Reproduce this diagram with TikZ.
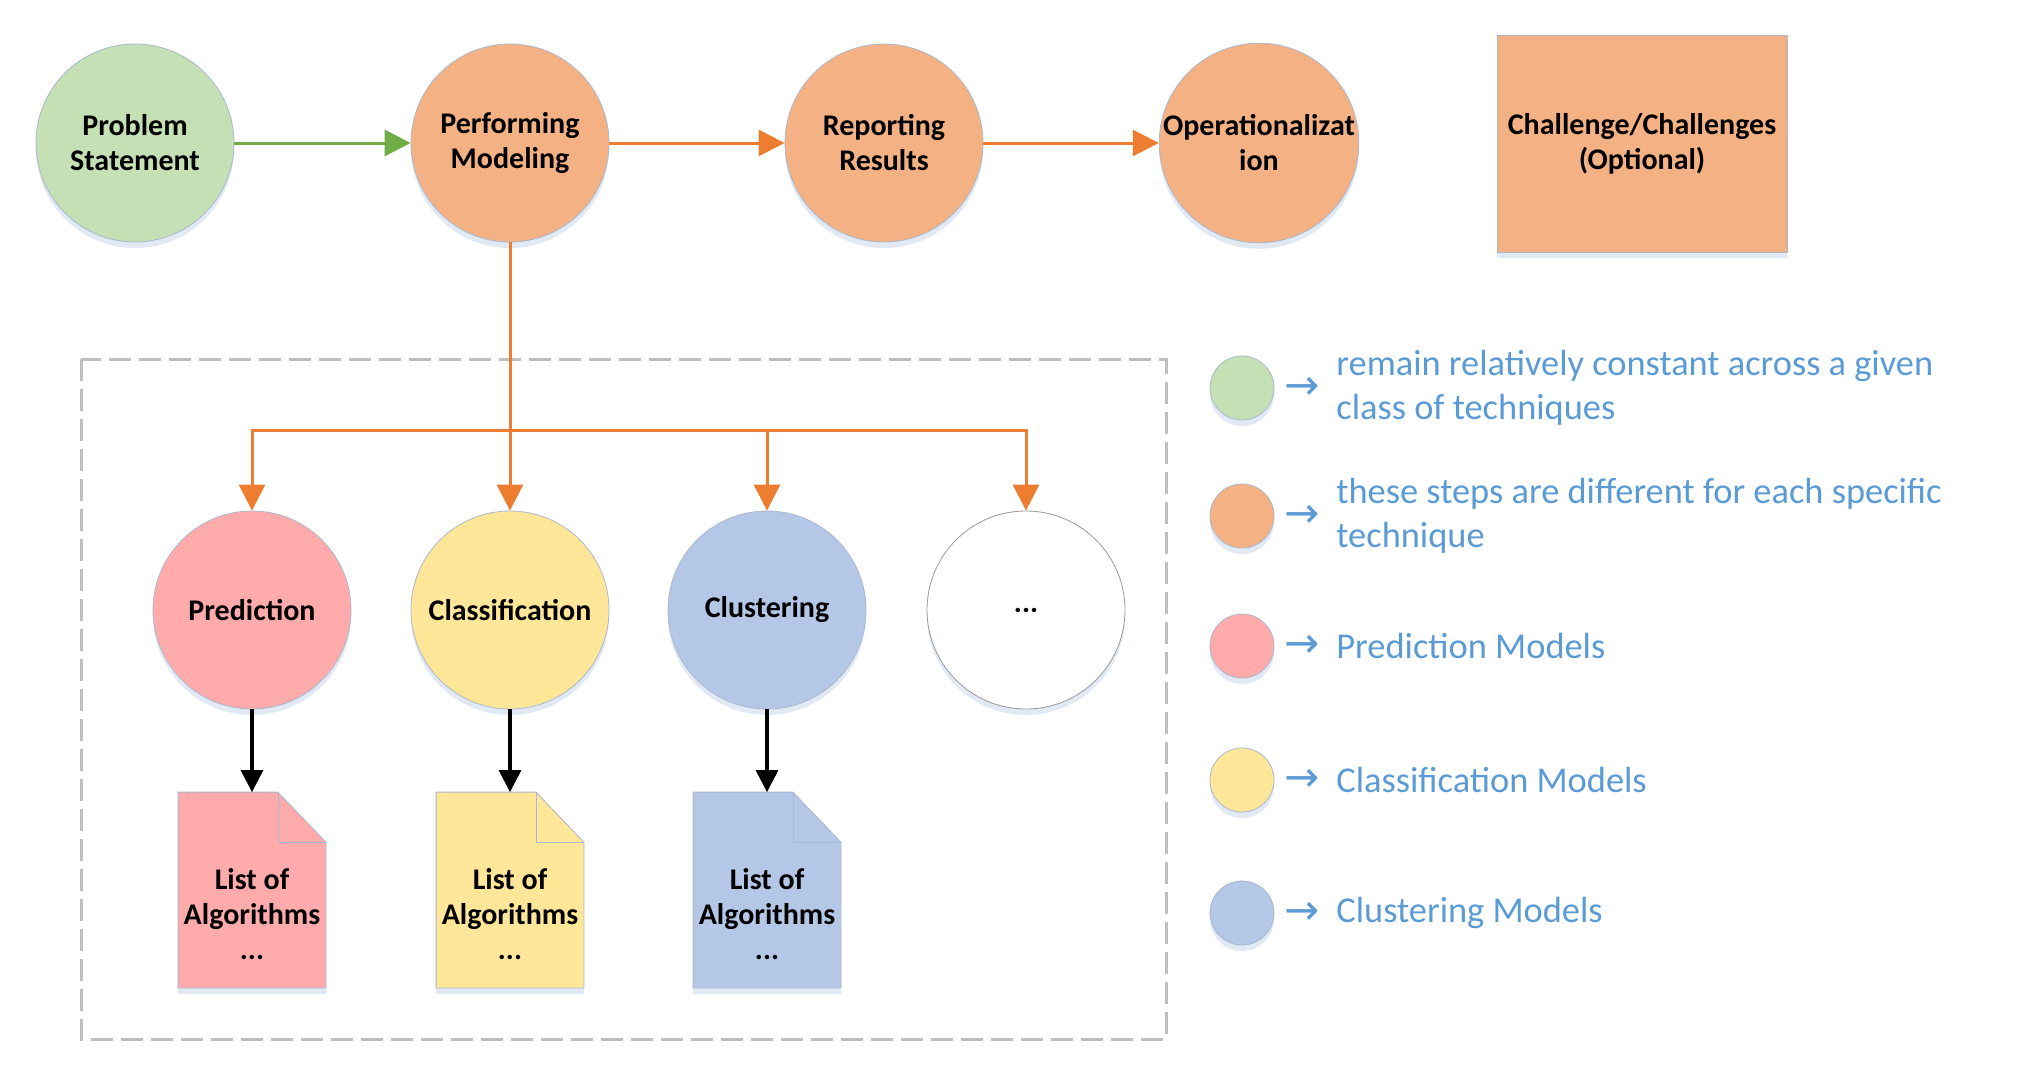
\documentclass[tikz,border=0pt]{standalone}
\usepackage{fontspec}
\setmainfont{Carlito}
\newfontfamily\arrowfont{DejaVu Sans}
\usetikzlibrary{arrows.meta,shadows}

\definecolor{stepgreen}{HTML}{C5E0B4}
\definecolor{steporange}{HTML}{F4B183}
\definecolor{predpink}{HTML}{FFABAB}
\definecolor{classyellow}{HTML}{FFE699}
\definecolor{clustblue}{HTML}{B4C7E7}
\definecolor{flowgreen}{HTML}{70AD47}
\definecolor{floworange}{HTML}{ED7D31}
\definecolor{legendblue}{HTML}{5B9BD5}
\definecolor{shapeedge}{HTML}{A9B8CC}
\definecolor{framegray}{HTML}{BFBFBF}

\begin{document}
\begin{tikzpicture}[x=0.5pt, y=-0.5pt,
        softshadow/.style={drop shadow={shadow xshift=0pt, shadow yshift=-3pt, fill=clustblue, opacity=0.4}},
        stage/.style={circle, draw=shapeedge, line width=0.4pt, minimum size=99pt, inner sep=0pt,
            align=center, font=\bfseries\fontsize{15}{17.5}\selectfont, softshadow},
        docbox/.style={minimum width=73.5pt, minimum height=97.5pt, inner sep=0pt},
        docline/.style={draw=shapeedge, line width=0.4pt},
        doctext/.style={align=center, inner sep=0pt, font=\bfseries\fontsize{15}{17.5}\selectfont},
        flow/.style={-{Triangle[length=13pt,width=13pt]}, line width=1.5pt},
        listarrow/.style={-{Triangle[length=11pt,width=11pt]}, line width=1.6pt, black},
        legdot/.style={circle, draw=shapeedge, line width=0.4pt, minimum size=32pt, inner sep=0pt, softshadow},
        legarrow/.style={text=legendblue, inner sep=0pt, font=\arrowfont\fontsize{21}{22}\selectfont},
        legtext/.style={anchor=west, text=legendblue, align=left, inner sep=0pt,
            font=\fontsize{18.2}{22}\selectfont}
    ]
        \useasboundingbox (0,0) rectangle (2039,1088);

        % Group frame round the model branches
        \draw[framegray, line width=1.5pt, dash pattern=on 11pt off 4pt]
            (81,359) rectangle (1166,1039);

        % Main steps
        \node[stage, fill=stepgreen] (PS) at (135,143) {Problem\\Statement};
        \node[stage, fill=steporange] (PM) at (510,143) {Performing\\Modeling};
        \node[stage, fill=steporange] (RR) at (884,143) {Reporting\\Results};
        \node[stage, fill=steporange] (OP) at (1259,143) {Operationalizat\\ion};
        \node[rectangle, draw=shapeedge, fill=steporange, minimum width=145pt, minimum height=108.5pt,
            align=center, font=\bfseries\fontsize{15}{17.5}\selectfont, softshadow]
            (CH) at (1642,143.5) {Challenge/Challenges\\(Optional)};

        \draw[flow, flowgreen] (PS) -- (PM);
        \draw[flow, floworange] (PM) -- (RR);
        \draw[flow, floworange] (RR) -- (OP);

        % Model types
        \node[stage, fill=predpink] (L1) at (252,610) {Prediction};
        \node[stage, fill=classyellow] (L2) at (510,610) {Classification};
        \node[stage, fill=clustblue] (L3) at (767,610) {Clustering};
        \node[stage, fill=white, draw=black!40] (L4) at (1026,610) {...};

        \coordinate (bus) at (510,430);
        \draw[floworange, line width=1.5pt] (PM) -- (bus);
        \foreach \i in {1,...,4}
            \draw[flow, floworange] (bus) -| (L\i.north);

        % Lists of algorithms
        \foreach \i/\x/\c in {1/252/predpink, 2/510/classyellow, 3/767/clustblue} {
            \node[docbox] (D\i) at (\x,890) {};
            \filldraw[docline, fill=\c, softshadow] (D\i.north west) -- ([xshift=-24pt]D\i.north east)
                -- ([yshift=-25pt]D\i.north east) -- (D\i.south east) -- (D\i.south west) -- cycle;
            \draw[docline] ([xshift=-24pt]D\i.north east) |- ([yshift=-25pt]D\i.north east);
            \node[doctext] (T\i) at ([yshift=-12pt]D\i.center) {List of\\Algorithms\\...};
            \draw[listarrow] (L\i) -- (D\i);
        }

        % Legend
        \foreach \y/\c/\t [count=\k] in {
                388/stepgreen/{remain relatively constant across a given\\class of techniques},
                516/steporange/{these steps are different for each specific\\technique},
                646/predpink/{Prediction Models},
                780/classyellow/{Classification Models},
                913/clustblue/{Clustering Models}} {
            \node[legdot, fill=\c] (K\k) at (1242,\y) {};
            \node[legarrow] (A\k) at (1302,\y) {→};
            \node[legtext] (E\k) at (1336,\y) {\t};
        }
    \end{tikzpicture}
\end{document}
